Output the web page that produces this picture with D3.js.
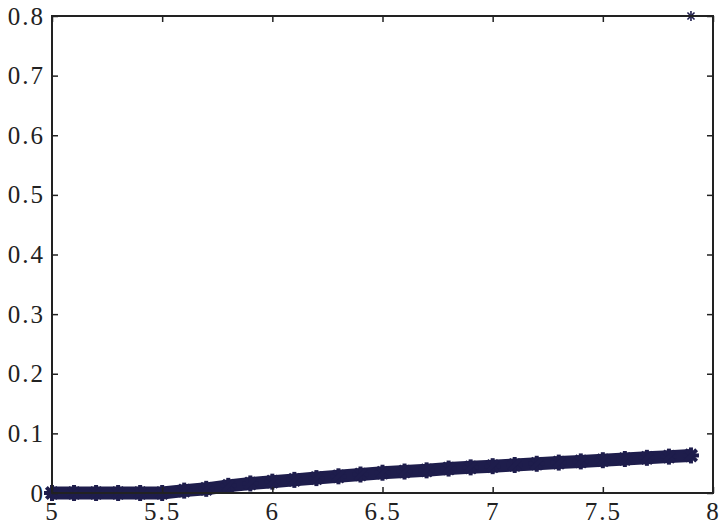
<!DOCTYPE html>
<html>
<head>
<meta charset="utf-8">
<script src="https://d3js.org/d3.v7.min.js"></script>
<style>
  body { margin: 0; background: #fff; }
</style>
</head>
<body>
<svg width="720" height="524"></svg>
<script>
// series (x step 0.1)
const xs = [5.0, 5.1, 5.2, 5.3, 5.4, 5.5, 5.6, 5.7, 5.8, 5.9,
            6.0, 6.1, 6.2, 6.3, 6.4, 6.5, 6.6, 6.7, 6.8, 6.9,
            7.0, 7.1, 7.2, 7.3, 7.4, 7.5, 7.6, 7.7, 7.8, 7.9];
const ys = [0, 0, 0, 0, 0, 0, 0.004, 0.007, 0.012, 0.016,
            0.019, 0.022, 0.025, 0.028, 0.031, 0.034, 0.036, 0.038, 0.041, 0.043,
            0.045, 0.047, 0.049, 0.051, 0.053, 0.055, 0.057, 0.059, 0.061, 0.063];
// single outlier point
const outX = [7.9];
const outY = [0.8];

const xTicks = [5, 5.5, 6, 6.5, 7, 7.5, 8];
const yTicks = [0, 0.1, 0.2, 0.3, 0.4, 0.5, 0.6, 0.7, 0.8];

const pLeft = 52, pRight = 713, pTop = 16, pBottom = 493;
const x = d3.scaleLinear().domain([5, 8]).range([pLeft, pRight]);
const y = d3.scaleLinear().domain([0, 0.8]).range([pBottom, pTop]);

const svg = d3.select('svg');
const ink = '#222';
const navy = '#1e1d4c';
const serif = "'Liberation Serif', 'Times New Roman', serif";

// data band
const pts = xs.map((v, i) => [v, ys[i]]);
const line = d3.line().x(d => x(d[0])).y(d => y(d[1]));
svg.append('path')
  .datum(pts)
  .attr('d', line)
  .attr('fill', 'none')
  .attr('stroke', navy)
  .attr('stroke-width', 13);

function star(g, cx, cy, r, w) {
  for (let k = 0; k < 4; k++) {
    const a = k * Math.PI / 4;
    g.append('line')
      .attr('x1', cx - r * Math.cos(a)).attr('y1', cy - r * Math.sin(a))
      .attr('x2', cx + r * Math.cos(a)).attr('y2', cy + r * Math.sin(a))
      .attr('stroke', navy).attr('stroke-width', w);
  }
}
const mk = svg.append('g');
pts.forEach(d => star(mk, x(d[0]), y(d[1]), 8, 4));

const ok = svg.append('g');
outX.forEach((v, i) => star(ok, x(v), y(outY[i]), 5, 1.6));

// box
svg.append('rect')
  .attr('x', pLeft).attr('y', pTop)
  .attr('width', pRight - pLeft).attr('height', pBottom - pTop)
  .attr('fill', 'none').attr('stroke', ink).attr('stroke-width', 2);

function styleText(g, ls) {
  g.selectAll('text')
    .attr('fill', ink)
    .style('font-family', serif)
    .style('font-size', '25px')
    .style('letter-spacing', ls);
}

// axes with inward ticks
svg.append('g')
  .attr('transform', `translate(0,${pBottom})`)
  .call(d3.axisBottom(x).tickValues(xTicks).tickSize(-6).tickPadding(9).tickFormat(d3.format('')))
  .call(g => g.select('.domain').remove())
  .call(g => g.selectAll('line').attr('stroke', ink).attr('stroke-width', 1.5))
  .call(g => styleText(g, '2px'));
svg.append('g')
  .attr('transform', `translate(0,${pTop})`)
  .call(d3.axisTop(x).tickValues(xTicks).tickSize(-6).tickFormat(''))
  .call(g => g.select('.domain').remove())
  .call(g => g.selectAll('line').attr('stroke', ink).attr('stroke-width', 1.5));
svg.append('g')
  .attr('transform', `translate(${pLeft},0)`)
  .call(d3.axisLeft(y).tickValues(yTicks).tickSize(-6).tickPadding(7).tickFormat(d3.format('')))
  .call(g => g.select('.domain').remove())
  .call(g => g.selectAll('line').attr('stroke', ink).attr('stroke-width', 1.5))
  .call(g => styleText(g, '2px'));
svg.append('g')
  .attr('transform', `translate(${pRight},0)`)
  .call(d3.axisRight(y).tickValues(yTicks).tickSize(-6).tickFormat(''))
  .call(g => g.select('.domain').remove())
  .call(g => g.selectAll('line').attr('stroke', ink).attr('stroke-width', 1.5));
</script>
</body>
</html>
